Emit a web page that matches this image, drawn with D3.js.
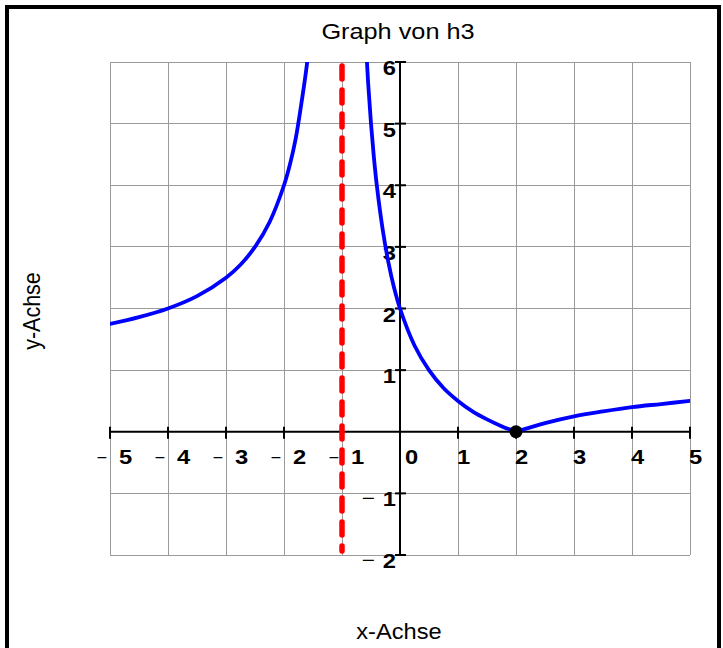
<!DOCTYPE html>
<html>
<head>
<meta charset="utf-8">
<script src="https://cdn.jsdelivr.net/npm/d3@7"></script>
<style>
  html, body { margin: 0; padding: 0; background: #fff; }
  svg { display: block; }
  text { font-family: "Liberation Sans", Arial, Helvetica, sans-serif; }
</style>
</head>
<body>
<div id="chart"></div>
<script>
// ---- data ----
const title = "Graph von h3";
const xLabel = "x-Achse";
const yLabel = "y-Achse";
const xTicks = [-5, -4, -3, -2, -1, 0, 1, 2, 3, 4, 5];
const yTicks = [-2, -1, 1, 2, 3, 4, 5, 6];
const xDomain = [-5, 5];
const yDomain = [-2, 6];
const asymptoteX = -1;
const markedPoint = [2, 0];

// left branch (x < -1)
const branchLeftX = [-5, -4.5, -4, -3.5, -3, -2.75, -2.5, -2.25, -2, -1.9, -1.8, -1.7, -1.6, -1.5];
const branchLeftY = [1.75, 1.86, 2.0, 2.2, 2.5, 2.71, 3.0, 3.4, 4.0, 4.33, 4.75, 5.33, 6.0, 7.0];
// right branch, falling part (-1 < x <= 2)
const branchMidX = [-0.65, -0.6, -0.55, -0.5, -0.45, -0.4, -0.3, -0.2, -0.1, 0, 0.25, 0.5, 0.75, 1, 1.25, 1.5, 1.75, 2];
const branchMidY = [7.57, 6.5, 5.67, 5.0, 4.45, 4.0, 3.29, 2.75, 2.33, 2.0, 1.4, 1.0, 0.71, 0.5, 0.33, 0.2, 0.09, 0];
// right branch, rising part (x >= 2)
const branchRightX = [2, 2.5, 3, 3.5, 4, 4.5, 5];
const branchRightY = [0, 0.14, 0.25, 0.33, 0.4, 0.45, 0.5];

// ---- layout ----
const W = 723, H = 648;
const plot = { left: 110, right: 690, top: 62, bottom: 555 };
const SX = 1.13; // horizontal stretch of the reference's lettering

const svg = d3.select("#chart").append("svg").attr("width", W).attr("height", H);

function addText(g, px, py, str, opt) {
  const o = Object.assign({ size: 20, weight: "normal", anchor: "start", sx: SX, rot: 0 }, opt || {});
  return g.append("text")
    .attr("transform", `translate(${px},${py})` + (o.rot ? ` rotate(${o.rot})` : "") + ` scale(${o.sx},${o.sy || 1})`)
    .attr("text-anchor", o.anchor)
    .attr("font-size", o.size)
    .attr("font-weight", o.weight)
    .attr("fill", "#000")
    .text(str);
}

// outer frame
svg.append("rect")
  .attr("x", 7).attr("y", 7).attr("width", 712).attr("height", 700)
  .attr("fill", "none").attr("stroke", "#000").attr("stroke-width", 4);

const x = d3.scaleLinear().domain(xDomain).range([plot.left, plot.right]);
const y = d3.scaleLinear().domain(yDomain).range([plot.bottom, plot.top]);

// grid
const gridX = d3.range(xDomain[0], xDomain[1] + 1);
const gridY = d3.range(yDomain[0], yDomain[1] + 1);
const grid = svg.append("g").attr("stroke", "#9a9a9a").attr("stroke-width", 1).attr("shape-rendering", "crispEdges");
grid.selectAll("line.v").data(gridX).enter().append("line")
  .attr("x1", d => x(d)).attr("x2", d => x(d))
  .attr("y1", y(yDomain[0])).attr("y2", y(yDomain[1]));
grid.selectAll("line.h").data(gridY).enter().append("line")
  .attr("y1", d => y(d)).attr("y2", d => y(d))
  .attr("x1", x(xDomain[0])).attr("x2", x(xDomain[1]));

// axes lines
const axes = svg.append("g").attr("stroke", "#000").attr("stroke-width", 2);
axes.append("line").attr("x1", x(xDomain[0])).attr("x2", x(xDomain[1])).attr("y1", y(0)).attr("y2", y(0));
axes.append("line").attr("x1", x(0)).attr("x2", x(0)).attr("y1", y(yDomain[0])).attr("y2", y(yDomain[1]));
// ticks
axes.selectAll("line.xt").data(xTicks).enter().append("line")
  .attr("x1", d => x(d)).attr("x2", d => x(d)).attr("y1", y(0) - 5).attr("y2", y(0) + 7);
axes.selectAll("line.yt").data(yTicks).enter().append("line")
  .attr("y1", d => y(d)).attr("y2", d => y(d)).attr("x1", x(0) - 5).attr("x2", x(0) + 6);

// tick labels
const xl = svg.append("g");
xTicks.forEach(d => {
  const px = x(d);
  const baseY = y(0) + 32;
  const dx = d < 0 ? 9 : (d === 0 ? 5 : -1);
  addText(xl, px + dx, baseY, String(Math.abs(d)), { size: 21, weight: "bold" });
  if (d < 0) addText(xl, px - 3, baseY - 1, "\u2212", { size: 16, anchor: "end" });
});
const yl = svg.append("g");
yTicks.forEach(d => {
  const py = y(d);
  addText(yl, x(0) - 4, py + 13, String(Math.abs(d)), { size: 21, weight: "bold", anchor: "end" });
  if (d < 0) addText(yl, x(0) - 25, py + 12, "\u2212", { size: 20, anchor: "end" });
});

// clip for curve
svg.append("clipPath").attr("id", "clip").append("rect")
  .attr("x", plot.left).attr("y", plot.top)
  .attr("width", plot.right - plot.left).attr("height", plot.bottom - plot.top);

const line = d3.line().x(d => x(d[0])).y(d => y(d[1])).curve(d3.curveCatmullRom.alpha(0.5));
const curves = svg.append("g").attr("clip-path", "url(#clip)");
[[branchLeftX, branchLeftY], [branchMidX, branchMidY], [branchRightX, branchRightY]].forEach(([xs, ys]) => {
  curves.append("path")
    .datum(xs.map((v, i) => [v, ys[i]]))
    .attr("d", line)
    .attr("fill", "none").attr("stroke", "#0000ff").attr("stroke-width", 3.8)
    .attr("stroke-linejoin", "round").attr("stroke-linecap", "round");
});

// asymptote
svg.append("line")
  .attr("x1", x(asymptoteX)).attr("x2", x(asymptoteX))
  .attr("y1", y(yDomain[1]) + 4).attr("y2", y(yDomain[0]) - 4)
  .attr("stroke", "#ff0000").attr("stroke-width", 5.5)
  .attr("stroke-dasharray", "13,11").attr("stroke-linecap", "round");

// marked point
svg.append("circle").attr("cx", x(markedPoint[0])).attr("cy", y(markedPoint[1])).attr("r", 6.5).attr("fill", "#000");

// titles
const tg = svg.append("g");
addText(tg, 398, 39, title, { size: 22, anchor: "middle", sx: 1.15 });
addText(tg, 399, 639, xLabel, { size: 21.5, anchor: "middle", sx: 1.1 });
addText(tg, 40, 311, yLabel, { size: 21.5, anchor: "middle", sx: 1, sy: 1.1, rot: -90 });
</script>
</body>
</html>
